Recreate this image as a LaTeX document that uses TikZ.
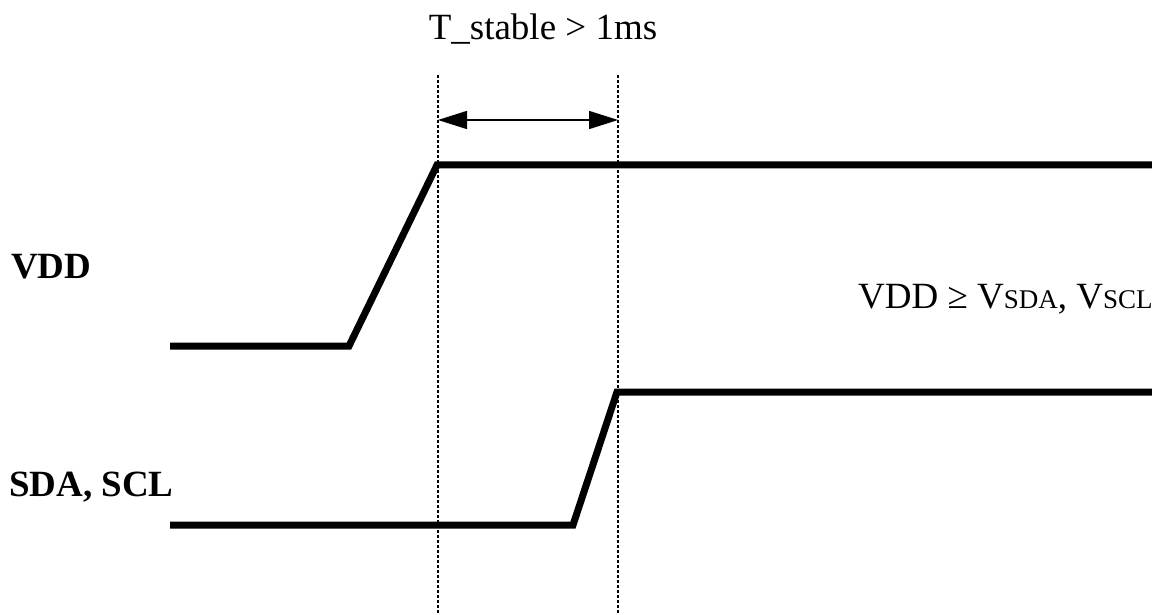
\documentclass[tikz,border=0pt]{standalone}
\usepackage{fontspec}
\setmainfont{Liberation Serif}
\usetikzlibrary{arrows.meta}
\begin{document}
\begin{tikzpicture}[x=1pt,y=-1pt,
  wave/.style={line width=7pt, line join=miter},
  guide/.style={line width=1.2pt, dash pattern=on 3pt off 2pt},
  dim/.style={line width=1.5pt, {Triangle[length=29pt,width=18pt]}-{Triangle[length=29pt,width=18pt]}},
  txt/.style={inner sep=0pt, font=\fontsize{37}{42}\selectfont},
  lbl/.style={inner sep=0pt, font=\fontsize{37}{42}\selectfont\bfseries}]
\useasboundingbox (0,0) rectangle (1152,615);
% guide lines
\coordinate (g1t) at (438,75);
\coordinate (g1b) at (438,615);
\coordinate (g2t) at (618,75);
\coordinate (g2b) at (618,615);
\draw[guide] (g1t) -- (g1b);
\draw[guide] (g2t) -- (g2b);
% dimension arrow
\coordinate (a1) at (438,120);
\coordinate (a2) at (618,120);
\draw[dim] (a1) -- (a2);
% VDD waveform
\coordinate (v0) at (170,346);
\coordinate (v1) at (349,346);
\coordinate (v2) at (437,165);
\coordinate (v3) at (1152,165);
\draw[wave] (v0) -- (v1) -- (v2) -- (v3);
% SDA/SCL waveform
\coordinate (s0) at (170,525);
\coordinate (s1) at (573,525);
\coordinate (s2) at (617,392);
\coordinate (s3) at (1152,392);
\draw[wave] (s0) -- (s1) -- (s2) -- (s3);
% texts
\node[txt, anchor=base] (title) at (543,40) {T\_stable > 1ms};
\node[lbl, anchor=base west] (vdd) at (11,278) {VDD};
\node[lbl, anchor=base west] (sda) at (9,496) {SDA, SCL};
\node[txt, anchor=base west] (cond) at (858,308) {VDD ≥ V{\fontsize{27}{30}\selectfont SDA}, V{\fontsize{27}{30}\selectfont SCL}};
\end{tikzpicture}
\end{document}
